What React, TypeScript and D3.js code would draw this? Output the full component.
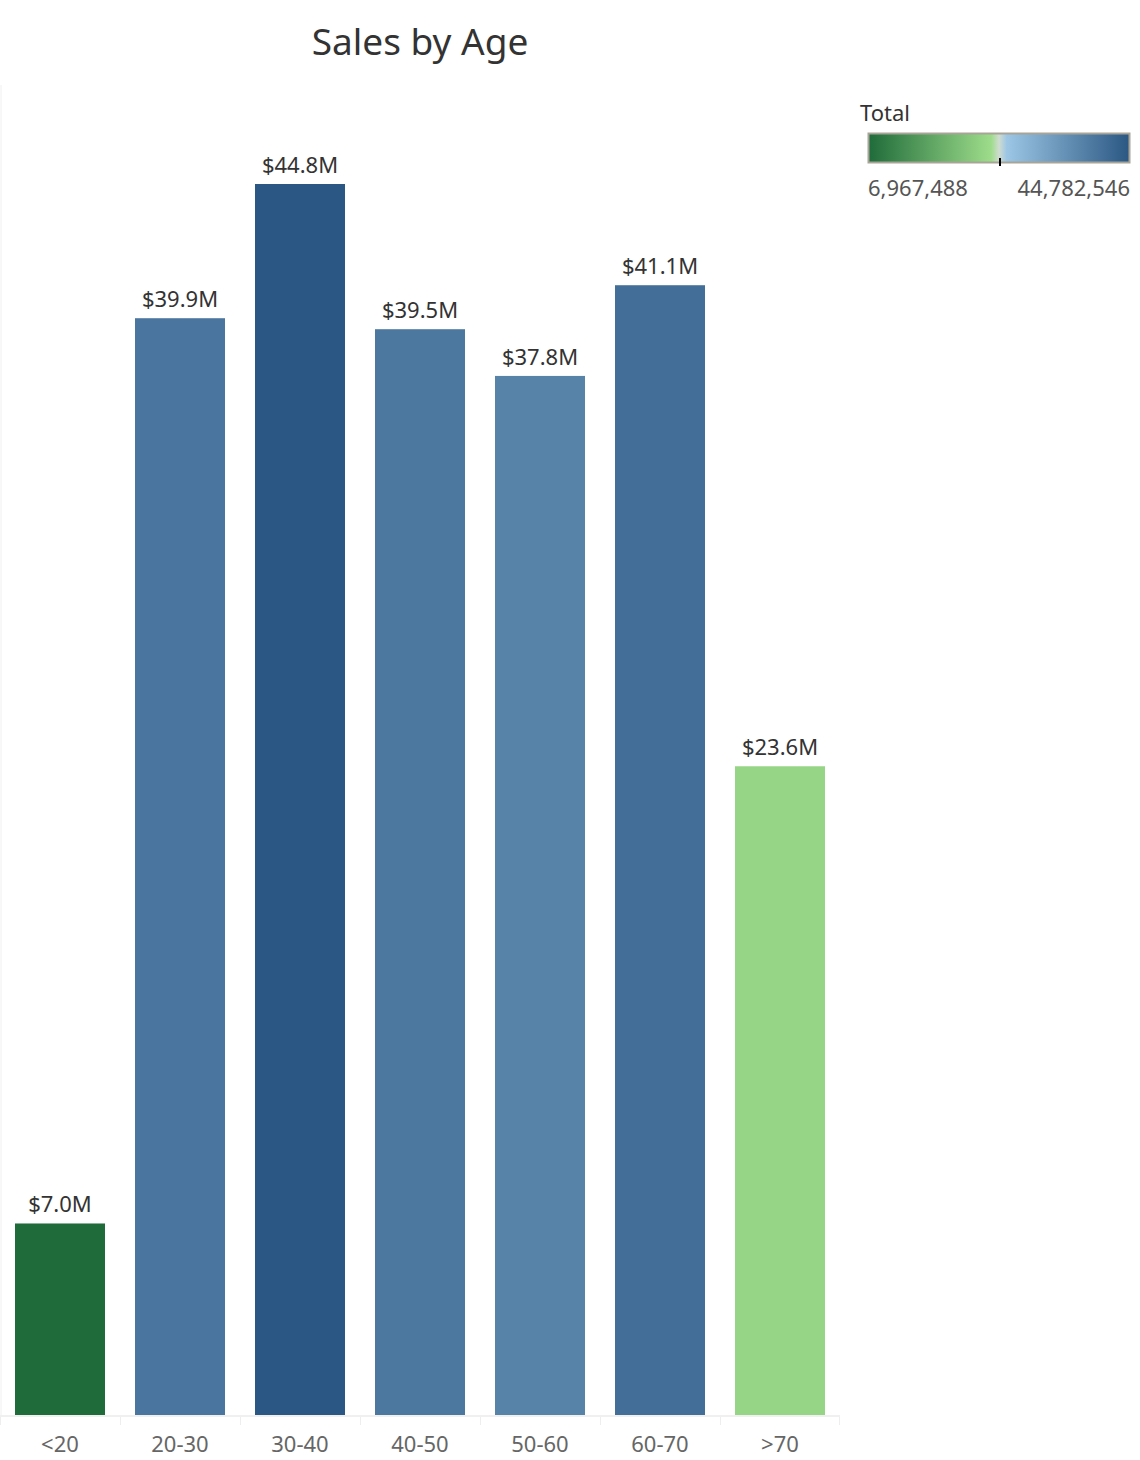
import { useEffect, useRef } from 'react'
import * as d3 from 'd3'

const ages = ['<20', '20-30', '30-40', '40-50', '50-60', '60-70', '>70']
const sales = [6967488, 39900000, 44782546, 39500000, 37800000, 41100000, 23600000]
const legendMin = 6967488
const legendMax = 44782546

export default function App() {
  const ref = useRef<SVGSVGElement>(null)

  useEffect(() => {
    document.body.style.margin = '0'
    const svg = d3.select(ref.current)
    svg.selectAll('*').remove()

    const font = "'Noto Sans', sans-serif"
    const baseline = 1415

    const x = d3.scaleBand().domain(ages).range([0, 840]).paddingInner(0.25).paddingOuter(0.125)
    const y = d3.scaleLinear().domain([0, legendMax]).range([baseline, 184])

    const stops = [
      [0, '#1f6b3a'], [0.47, '#9ddc8a'], [0.5, '#d0dcd0'], [0.53, '#9cc6e4'], [1, '#2a5783'],
    ] as [number, string][]
    const color = d3.scaleLinear<string>()
      .domain(stops.map(s => legendMin + s[0] * (legendMax - legendMin)))
      .range(stops.map(s => s[1]))
      .interpolate(d3.interpolateRgb)
      .clamp(true)

    svg.append('text')
      .attr('x', 420).attr('y', 55)
      .attr('text-anchor', 'middle')
      .style('font-family', font).style('font-size', '37px').style('fill', '#333')
      .text('Sales by Age')

    svg.append('line')
      .attr('x1', 1).attr('x2', 1).attr('y1', 85).attr('y2', baseline)
      .style('stroke', '#f0f0f0')
    svg.append('line')
      .attr('x1', 0).attr('x2', 840).attr('y1', baseline + 1).attr('y2', baseline + 1)
      .style('stroke', '#f0f0f0').style('stroke-width', 2)

    ages.forEach((_, i) => {
      svg.append('line')
        .attr('x1', i * 120 + 0.5).attr('x2', i * 120 + 0.5)
        .attr('y1', baseline + 2).attr('y2', baseline + 10)
        .style('stroke', '#eee')
    })
    svg.append('line').attr('x1', 839.5).attr('x2', 839.5)
      .attr('y1', baseline + 2).attr('y2', baseline + 10).style('stroke', '#eee')

    svg.selectAll('.bar').data(sales).enter().append('rect')
      .attr('x', (_, i) => x(ages[i]) || 0)
      .attr('y', d => y(d))
      .attr('width', x.bandwidth())
      .attr('height', d => baseline - y(d))
      .attr('fill', d => color(d))

    svg.selectAll('.lbl').data(sales).enter().append('text')
      .attr('x', (_, i) => (x(ages[i]) || 0) + x.bandwidth() / 2)
      .attr('y', d => y(d) - 11)
      .attr('text-anchor', 'middle')
      .style('font-family', font).style('font-size', '22px').style('fill', '#333')
      .text(d => `$${(d / 1e6).toFixed(1)}M`)

    svg.selectAll('.ax').data(ages).enter().append('text')
      .attr('x', d => (x(d) || 0) + x.bandwidth() / 2)
      .attr('y', 1452)
      .attr('text-anchor', 'middle')
      .style('font-family', font).style('font-size', '22px').style('fill', '#666')
      .text(d => d)

    // legend
    const defs = svg.append('defs')
    const grad = defs.append('linearGradient').attr('id', 'lg')
    stops.forEach(s => grad.append('stop').attr('offset', `${s[0] * 100}%`).attr('stop-color', s[1]))
    svg.append('text')
      .attr('x', 860).attr('y', 121)
      .style('font-family', font).style('font-size', '22px').style('fill', '#333')
      .text('Total')
    svg.append('rect')
      .attr('x', 868.5).attr('y', 133.5).attr('width', 261).attr('height', 29)
      .attr('fill', 'url(#lg)').style('stroke', '#a8a497').style('stroke-width', 2)
    svg.append('line')
      .attr('x1', 1000).attr('x2', 1000).attr('y1', 158).attr('y2', 166)
      .style('stroke', '#000').style('stroke-width', 2)
    svg.append('text')
      .attr('x', 868).attr('y', 196)
      .style('font-family', font).style('font-size', '22px').style('fill', '#555')
      .text(d3.format(',')(legendMin))
    svg.append('text')
      .attr('x', 1130).attr('y', 196).attr('text-anchor', 'end')
      .style('font-family', font).style('font-size', '22px').style('fill', '#555')
      .text(d3.format(',')(legendMax))
  }, [])

  return <svg ref={ref} width={1140} height={1460} style={{ display: 'block' }} />
}
